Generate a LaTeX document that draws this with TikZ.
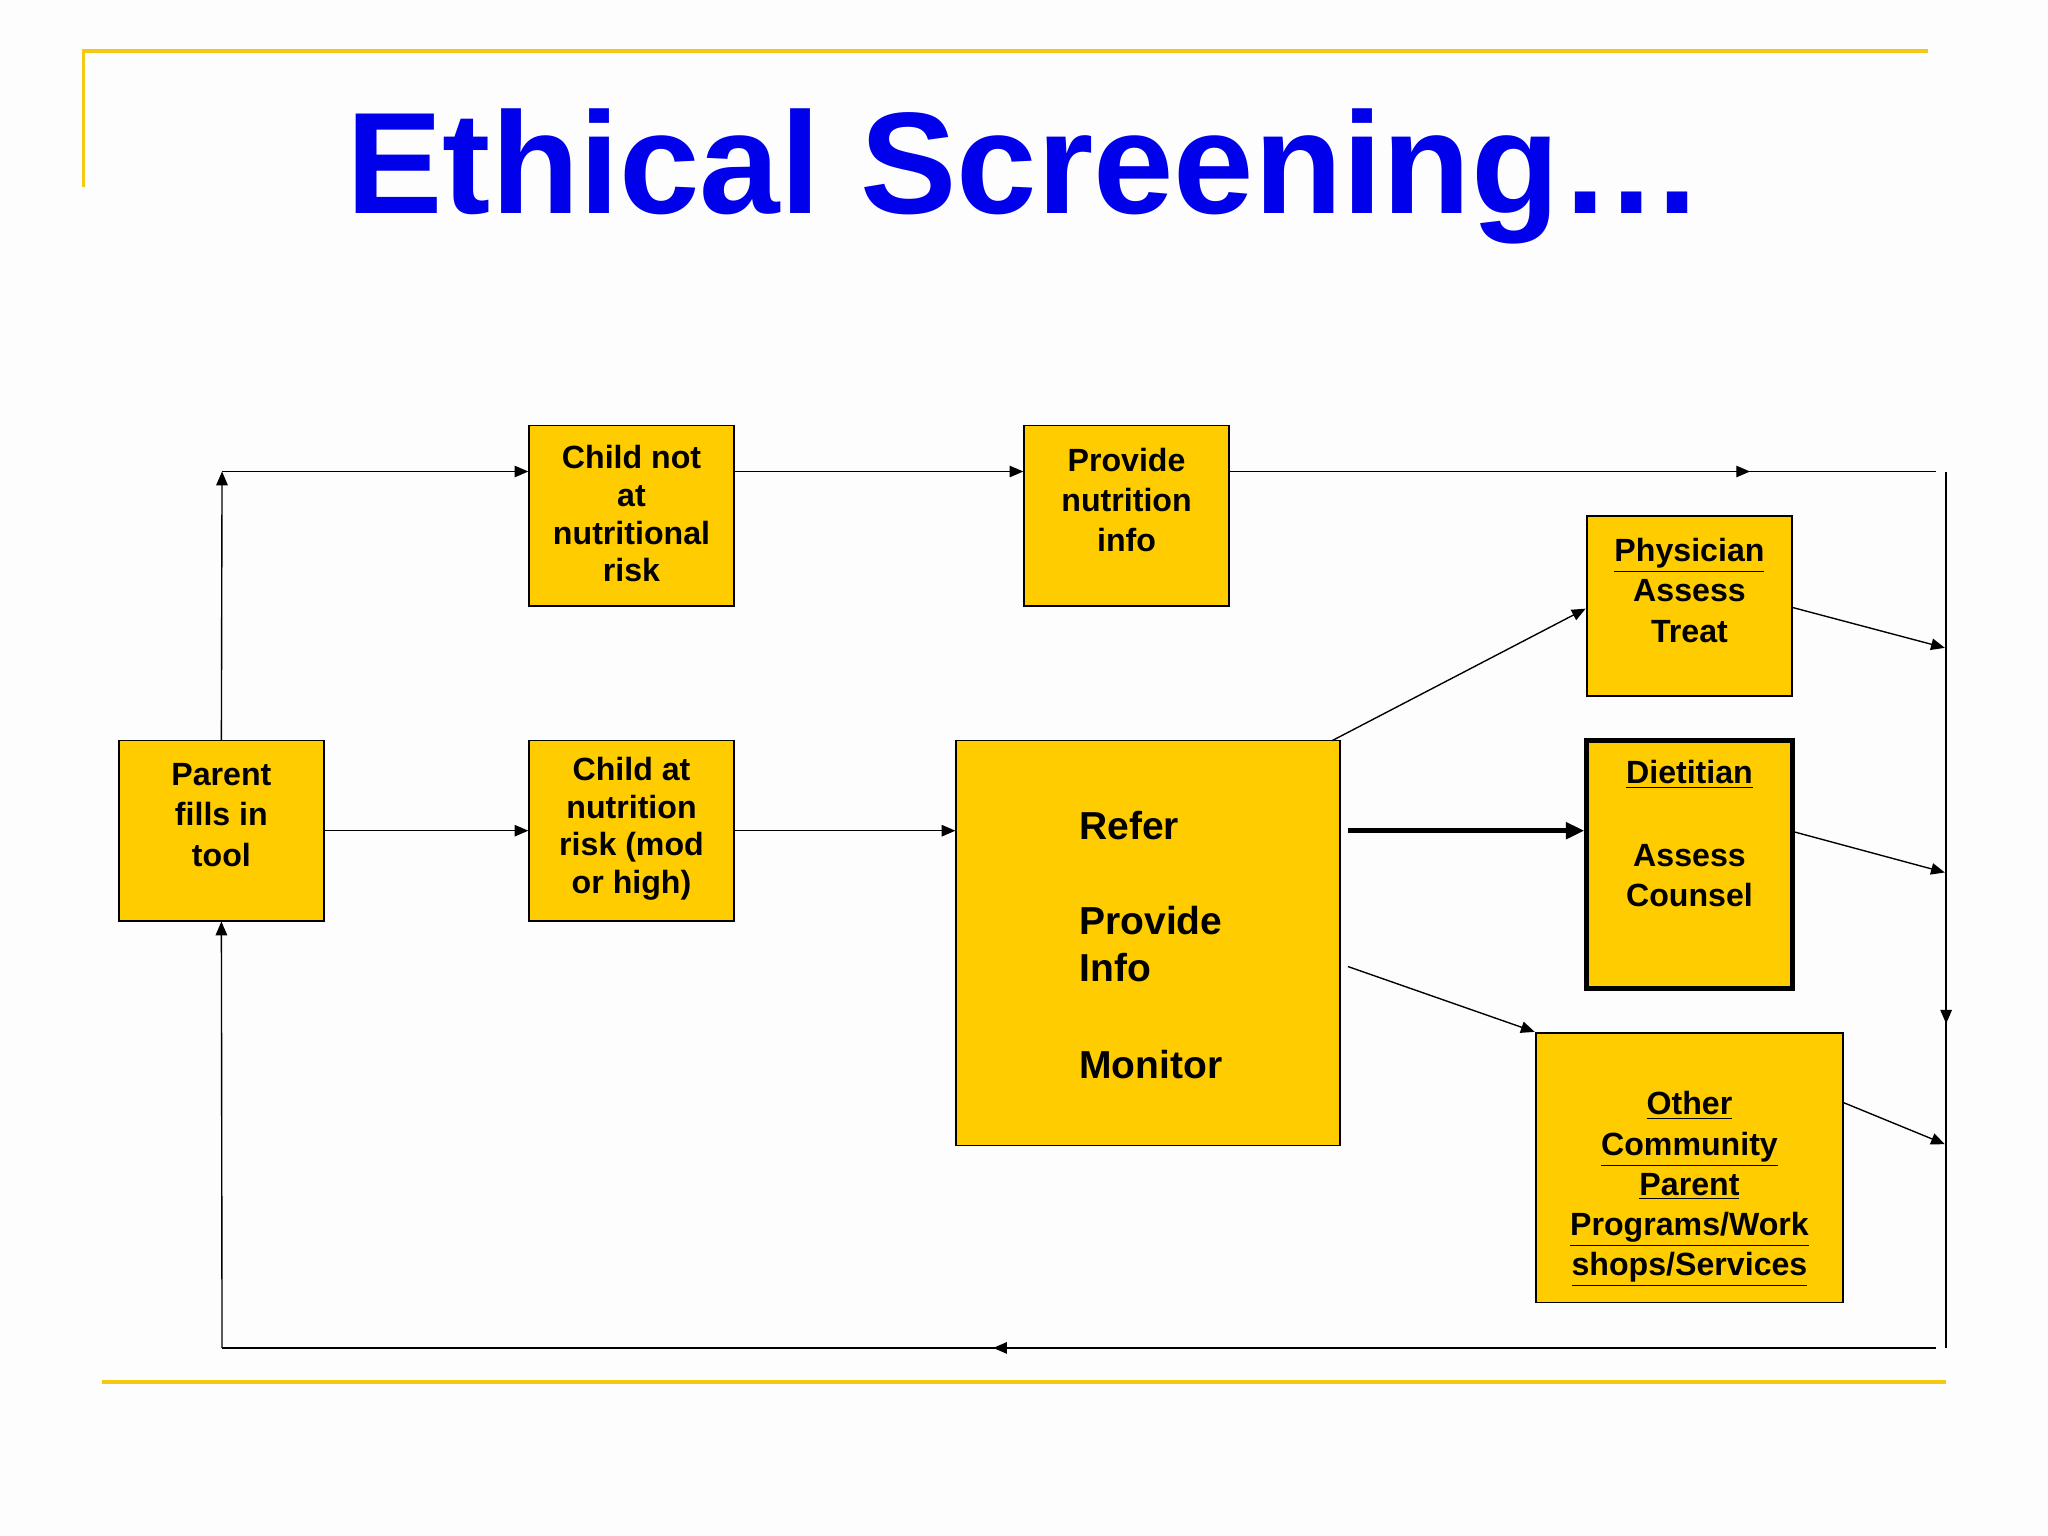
\documentclass[tikz,border=0pt]{standalone}
\usepackage{fontspec}
\setmainfont{Liberation Sans}
\usetikzlibrary{arrows.meta,decorations.markings}
\begin{document}
\begin{tikzpicture}[x=0.02cm,y=-0.02cm,
  box/.style={draw=black,fill={rgb,255:red,255;green,204;blue,0},line width=0.6pt,inner sep=0pt},
  tx/.style={inner sep=0pt,align=center,font=\fontsize{14}{17.5}\selectfont\bfseries},
  tt/.style={inner sep=0pt,align=center,font=\fontsize{14}{16.4}\selectfont\bfseries},
  rt/.style={inner sep=0pt,align=left,anchor=west,font=\fontsize{17}{20.5}\selectfont\bfseries},
  ln/.style={line width=0.6pt},
  arr/.style={ln,-{Triangle[length=6pt,width=5pt]}},
  mid/.style={ln,postaction={decorate},decoration={markings,mark=at position #1 with {\arrow{Triangle[length=6pt,width=5pt]}}}},
  gold/.style={draw={rgb,255:red,245;green,200;blue,20},line width=1.6pt}]
\useasboundingbox[fill={rgb,255:red,253;green,253;blue,253}] (0,0) rectangle (1568,1176);
\draw[gold] (64,143) -- (64,39) -- (1476,39);
\draw[gold] (78,1058) -- (1490,1058);
\node[font=\fontsize{63}{65}\selectfont\bfseries,text={rgb,255:red,0;green,0;blue,235}] (title) at (785,135) {Ethical Screening…};

\node[box,minimum width=157*0.02cm,minimum height=138*0.02cm] (parent) at (169.5,636) {};
\node[box,minimum width=157*0.02cm,minimum height=138*0.02cm] (cnot) at (483.5,395) {};
\node[box,minimum width=157*0.02cm,minimum height=138*0.02cm] (cat) at (483.5,636) {};
\node[box,minimum width=157*0.02cm,minimum height=138*0.02cm] (prov) at (862.5,395) {};
\node[box,minimum width=294*0.02cm,minimum height=310*0.02cm] (refer) at (879,722) {};
\node[box,minimum width=157*0.02cm,minimum height=138*0.02cm] (phys) at (1293.5,464) {};
\node[box,line width=2.2pt,minimum width=157*0.02cm,minimum height=190*0.02cm] (diet) at (1293.5,662) {};
\node[box,minimum width=235*0.02cm,minimum height=206*0.02cm] (other) at (1293.5,894) {};

\node[tx] (tparent) at (169.5,624) {Parent\\fills in\\tool};
\node[tt] (tcnot) at (483.5,393.5) {Child not\\at\\nutritional\\risk};
\node[tt] (tcat) at (483.5,634.5) {Child at\\nutrition\\risk (mod\\or high)};
\node[tx] (tprov) at (862.5,383) {Provide\\nutrition\\info};
\node[tx] (tphys) at (1293.5,452) {\underline{Physician}\\Assess\\Treat};
\node[tx] (tdiet) at (1293.5,593) {\underline{Dietitian}};
\node[tx] (tdiet2) at (1293.5,670.5) {Assess\\Counsel};
\node[tx] (tother) at (1293.5,910.5) {\underline{Other}\\\underline{Community}\\\underline{Parent}\\\underline{Programs/Work}\\\underline{shops/Services}};
\node[rt] (r1) at (826,632) {Refer};
\node[rt] (r2) at (826,723) {Provide\\Info};
\node[rt] (r3) at (826,815) {Monitor};

\coordinate (tl) at (170,361);
\coordinate (tr) at (1482,361);
\coordinate (vt) at (1490,361);
\coordinate (vb) at (1490,1032);
\coordinate (br) at (1482,1032);
\coordinate (bl) at (170,1032);
\coordinate (ts) at (1032,636);
\coordinate (te) at (1213,636);

\draw[arr] (parent.north) -- (tl);
\draw[arr] (tl) -- (cnot.west|-tl);
\draw[arr] (cnot.east|-tl) -- (prov.west|-tl);
\draw[mid=0.737] (prov.east|-tl) -- (tr);
\draw[mid=0.63] (vt) -- (vb);
\draw[mid=0.55] (br) -- (bl);
\draw[arr] (bl) -- (parent.south);
\draw[arr] (parent.east) -- (cat.west);
\draw[arr] (cat.east) -- (refer.west|-cat.east);
\draw[arr] (1020,567) -- (1214,466);
\draw[line width=2.2pt,-{Triangle[length=8pt,width=7pt]}] (ts) -- (te);
\draw[arr] (1032,740) -- (1175,790);
\draw[arr] (1372,465) -- (1489,496);
\draw[arr] (1374,637) -- (1489,668);
\draw[arr] (1411,844) -- (1489,876);
\end{tikzpicture}
\end{document}
